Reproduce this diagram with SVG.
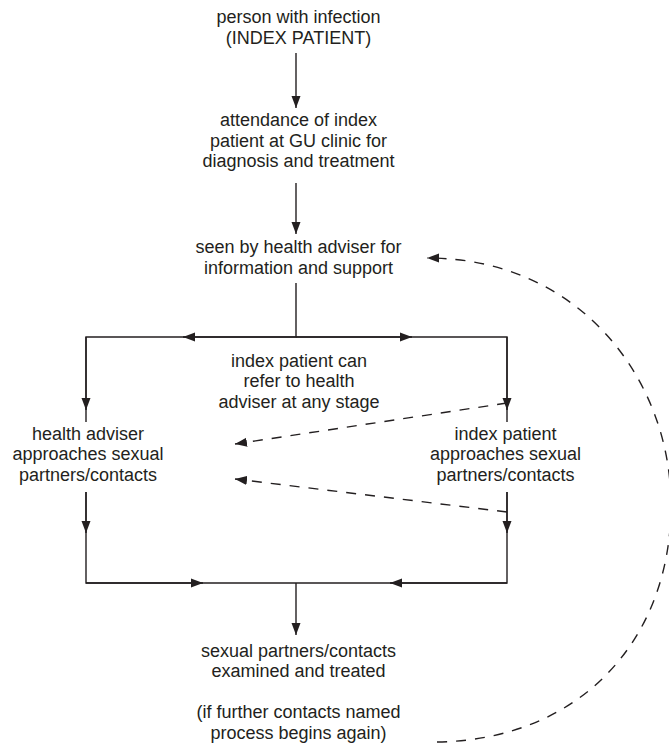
<svg xmlns="http://www.w3.org/2000/svg" width="669" height="755" viewBox="0 0 669 755">
<defs>
<style>
text{font-family:"Liberation Sans",Arial,sans-serif;font-size:18px;fill:#231f20;text-anchor:middle}
.ln{fill:none;stroke:#231f20;stroke-width:1.4}
.ar{fill:none;stroke:#231f20;stroke-width:1.4;marker-end:url(#ah)}
.ds{fill:none;stroke:#231f20;stroke-width:1.4;stroke-dasharray:10 9;marker-end:url(#ah)}
</style>
<marker id="ah" markerUnits="userSpaceOnUse" markerWidth="12" markerHeight="10" refX="12" refY="4.5" orient="auto" viewBox="0 0 12 9">
<path d="M0,0 L12,4.5 L0,9 z" fill="#231f20"/>
</marker>
</defs>
<rect width="669" height="755" fill="#fff"/>
<g id="connectors">
<path class="ar" d="M296 53 V108"/>
<path class="ar" d="M296 183 V234"/>
<path class="ln" d="M296 283 V337 H86 V422"/>
<path class="ln" d="M296 337 H507 V422"/>
<path class="ar" d="M296 337 H183"/>
<path class="ar" d="M296 337 H412"/>
<path class="ar" d="M86 337 V410"/>
<path class="ar" d="M507 337 V410"/>
<path class="ln" d="M86 492 V583 H507 V492"/>
<path class="ar" d="M86 492 V533"/>
<path class="ar" d="M507 492 V533"/>
<path class="ar" d="M86 583 H203"/>
<path class="ar" d="M507 583 H390"/>
<path class="ar" d="M296 583 V635"/>
<path class="ds" d="M507 403 L235 444"/>
<path class="ds" d="M507 512 L235 479"/>
<path class="ds" d="M437 742 C580 740 671 640 671 505 C671 380 580 258 427 258"/>
</g>
<g id="index-patient">
<text x="298.5" y="23">person with infection</text>
<text x="298.5" y="43.5">(INDEX PATIENT)</text>
</g>
<g id="attendance">
<text x="298.5" y="126">attendance of index</text>
<text x="298.5" y="146.5">patient at GU clinic for</text>
<text x="298.5" y="167">diagnosis and treatment</text>
</g>
<g id="health-adviser-seen">
<text x="298.5" y="253">seen by health adviser for</text>
<text x="298.5" y="274">information and support</text>
</g>
<g id="refer-note">
<text x="299" y="366.5">index patient can</text>
<text x="299" y="387">refer to health</text>
<text x="299" y="407.5">adviser at any stage</text>
</g>
<g id="adviser-approaches">
<text x="88" y="439.5">health adviser</text>
<text x="88" y="460">approaches sexual</text>
<text x="88" y="480.5">partners/contacts</text>
</g>
<g id="patient-approaches">
<text x="505.5" y="439.5">index patient</text>
<text x="505.5" y="460">approaches sexual</text>
<text x="505.5" y="480.5">partners/contacts</text>
</g>
<g id="contacts-treated">
<text x="298.5" y="656.5">sexual partners/contacts</text>
<text x="298.5" y="677">examined and treated</text>
</g>
<g id="process-again">
<text x="298.5" y="718">(if further contacts named</text>
<text x="298.5" y="738.5">process begins again)</text>
</g>
</svg>
